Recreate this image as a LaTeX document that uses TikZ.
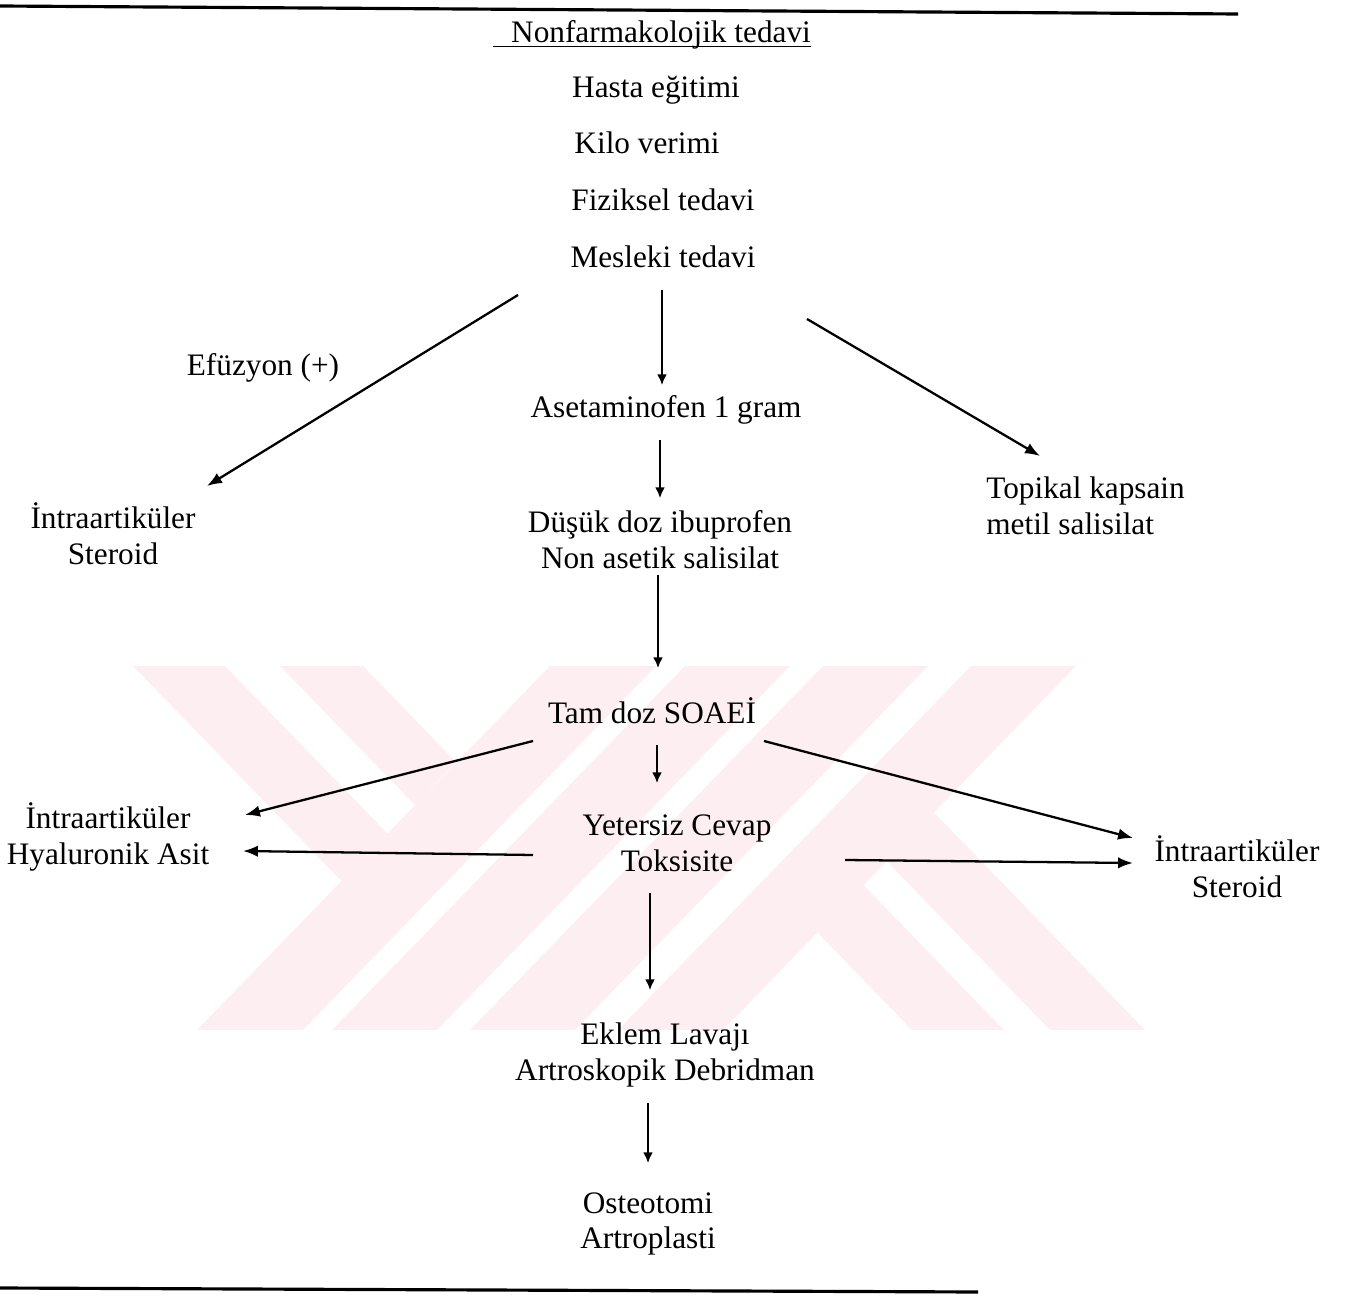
\documentclass[tikz,border=0pt]{standalone}
\usepackage{fontspec}
\setmainfont{Liberation Serif}
\usetikzlibrary{arrows.meta}

\definecolor{wmpink}{RGB}{253,238,241}

\tikzset{
  lbl/.style={font=\fontsize{17.8}{20.4}\selectfont, inner sep=0pt, align=center},
  arr/.style={-{Latex[length=8.5pt,width=6.5pt]}, line width=1.3pt},
  varr/.style={-{Latex[length=6pt,width=5.5pt]}, line width=0.9pt},
  rule/.style={line width=1.8pt},
}

\begin{document}
\begin{tikzpicture}[x=0.02cm, y=-0.02cm]
    \useasboundingbox (0,0) rectangle (1346,1297);

    % Background watermark bands
    \foreach \a/\b in {550/656, 685/790, 823/928, 971/1076}
        \fill[wmpink] (\a,666) -- (\b,666) -- (\b-353,1030) -- (\a-353,1030) -- cycle;
    \fill[wmpink] (133,666) -- (225,666) -- (387.5,833.5) -- (341.5,881) -- cycle;
    \fill[wmpink] (280,666) -- (363,666) -- (456,762) -- (415,805) -- cycle;
    \fill[wmpink] (912,1030) -- (1004,1030) -- (863.5,885) -- (817.5,932.6) -- cycle;
    \fill[wmpink] (1050,1030) -- (1145,1030) -- (934,812.5) -- (886.5,861) -- cycle;

    % Top and bottom rules
    \draw[rule] (0,6) -- (1238,14);
    \draw[rule] (0,1288) -- (978,1292);

    % Nonpharmacological block
    \node[lbl] (nonf) at (661,35) {Nonfarmakolojik tedavi};
    \draw[line width=0.9pt] ([shift={(-18,4)}]nonf.base west) -- ([shift={(0,4)}]nonf.base east);
    \node[lbl] (hasta) at (656,90) {Hasta eğitimi};
    \node[lbl] (kilo) at (647,143) {Kilo verimi};
    \node[lbl] (fiz) at (663,200) {Fiziksel tedavi};
    \node[lbl] (mesl) at (663,257) {Mesleki tedavi};

    % First branching
    \node[lbl] (efuz) at (263,368) {Efüzyon (+)};
    \node[lbl] (intraL) at (113,534) {İntraartiküler\\Steroid};
    \node[lbl] (aset) at (666,410) {Asetaminofen 1 gram};
    \node[lbl, align=left, anchor=west] (topik) at (986,506) {Topikal kapsain\\metil salisilat};
    \node[lbl] (dusuk) at (660,540) {Düşük doz ibuprofen\\Non asetik salisilat};

    \draw[arr] ([shift={(-145,38)}]mesl.center) -- ([shift={(94,-48)}]intraL.center);
    \draw[varr] ([shift={(-1,33)}]mesl.center) -- ([shift={(-4,-25)}]aset.center);
    \draw[arr] ([shift={(144,62)}]mesl.center) -- ([shift={(54,-50)}]topik.west);
    \draw[varr] ([shift={(-6,30)}]aset.center) -- ([shift={(0,-42)}]dusuk.center);

    % Full dose NSAID and its alternatives
    \node[lbl] (tam) at (652,711) {Tam doz SOAEİ};
    \node[lbl] (intraH) at (108,837) {İntraartiküler\\Hyaluronik Asit};
    \node[lbl] (yetersiz) at (677,843) {Yetersiz Cevap\\Toksisite};
    \node[lbl] (intraR) at (1237,867) {İntraartiküler\\Steroid};

    \draw[varr] ([shift={(-2,35)}]dusuk.center) -- ([shift={(6,-43)}]tam.center);
    \draw[arr] ([shift={(-119,30)}]tam.center) -- ([shift={(137,-22)}]intraH.center);
    \draw[varr] ([shift={(5,34)}]tam.center) -- ([shift={(-20,-60)}]yetersiz.center);
    \draw[arr] ([shift={(112,30)}]tam.center) -- ([shift={(-104,-29)}]intraR.center);
    \draw[arr] ([shift={(-144,12)}]yetersiz.center) -- ([shift={(135,14)}]intraH.center);
    \draw[arr] ([shift={(168,17)}]yetersiz.center) -- ([shift={(-104,-4)}]intraR.center);

    % Surgical steps
    \node[lbl] (eklem) at (665,1055) {Eklem Lavajı\\Artroskopik Debridman};
    \node[lbl] (osteo) at (648,1224) {Osteotomi\\Artroplasti};

    \draw[varr] ([shift={(-27,50)}]yetersiz.center) -- ([shift={(-15,-65)}]eklem.center);
    \draw[varr] ([shift={(-17,48)}]eklem.center) -- ([shift={(0,-61)}]osteo.center);
\end{tikzpicture}
\end{document}
